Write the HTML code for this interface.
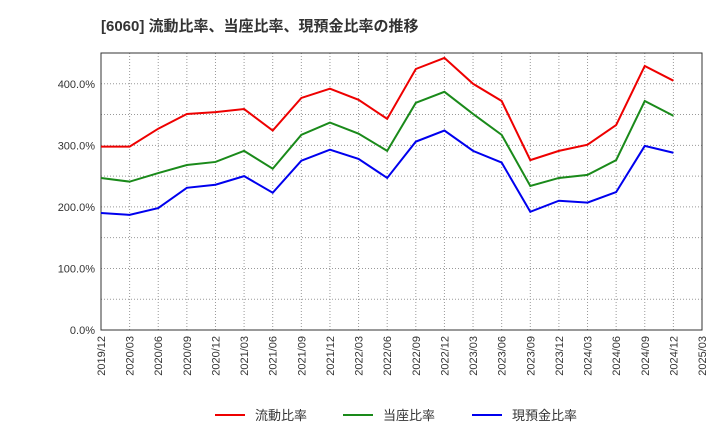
<!DOCTYPE html>
<html><head><meta charset="utf-8"><style>
body{margin:0;background:#fff;font-family:"Liberation Sans","Noto Sans CJK JP",sans-serif;}
</style></head><body>
<svg id="chart" width="720" height="440" xmlns="http://www.w3.org/2000/svg" font-family="Liberation Sans, Noto Sans CJK JP, sans-serif">
<text x="101" y="31" font-size="15" font-weight="bold" fill="#333">[6060]  流動比率、当座比率、現預金比率の推移</text>
<g id="grid"></g><g id="axes"></g><g id="series"></g><g id="legend"></g>
</svg>
<script>
const categories=["2019/12","2020/03","2020/06","2020/09","2020/12","2021/03","2021/06","2021/09","2021/12","2022/03","2022/06","2022/09","2022/12","2023/03","2023/06","2023/09","2023/12","2024/03","2024/06","2024/09","2024/12","2025/03"];
const yTicks=[0,100,200,300,400];
const currentRatio=[298,298,327,351,354,359,324,377,392,374,343,424,442,400,372,276,291,301,333,429,405];
const quickRatio=[247,241,255,268,273,291,262,317,337,319,291,369,387,351,317,234,247,252,276,372,348];
const cashRatio=[190,187,198,231,236,250,223,275,293,278,247,306,324,291,272,192,210,207,224,299,288];
const seriesNames=["流動比率","当座比率","現預金比率"];
const colors=["#e00","#1a8a1a","#00e"];
const L=101,R=702,T=53,B=330,YMAX=450;
const x=i=>L+i*(R-L)/(categories.length-1);
const y=v=>B-v*(B-T)/YMAX;
const NS="http://www.w3.org/2000/svg";
function mk(tag,parent,attrs){const e=document.createElementNS(NS,tag);for(const k in attrs)e.setAttribute(k,attrs[k]);parent.appendChild(e);return e;}
const grid=document.getElementById('grid'),axes=document.getElementById('axes'),ser=document.getElementById('series'),leg=document.getElementById('legend');
categories.forEach((c,i)=>{
 const l=mk('line',grid,{x1:x(i),x2:x(i),y1:T,y2:B,stroke:'#999','stroke-dasharray':'1,2','stroke-width':1});
 
 
 const t=mk('text',axes,{transform:`translate(${x(i)+4},${B+6}) rotate(-90)`,'text-anchor':'end','font-size':11,fill:'#333'});
 t.textContent=c;
 
 
});
for(let v=50;v<YMAX;v+=50){
 const l=mk('line',grid,{x1:L,x2:R,y1:y(v),y2:y(v),stroke:'#999','stroke-dasharray':'1,2','stroke-width':1});
 
 
}
yTicks.forEach(v=>{
 const t=mk('text',axes,{x:L-6,y:y(v)+4,'text-anchor':'end','font-size':11,fill:'#333'});
 t.textContent=v.toFixed(1)+'%';
 
 
});
const frame=mk('rect',axes,{x:L,y:T,width:R-L,height:B-T,fill:'none',stroke:'#333','stroke-width':1});


[currentRatio,quickRatio,cashRatio].forEach((d,s)=>{
 const p=mk('polyline',ser,{points:d.map((v,i)=>x(i)+','+y(v)).join(' '),fill:'none',stroke:colors[s],'stroke-width':2});
 
 
});
const lx=[215,343,472];
seriesNames.forEach((n,s)=>{
 const g=mk('g',leg,{});
 
 
 mk('line',g,{x1:lx[s],x2:lx[s]+30,y1:415,y2:415,stroke:colors[s],'stroke-width':2});
 const t=mk('text',g,{x:lx[s]+40,y:420,'font-size':13,fill:'#333'});
 t.textContent=n;
});
</script>
</body></html>
